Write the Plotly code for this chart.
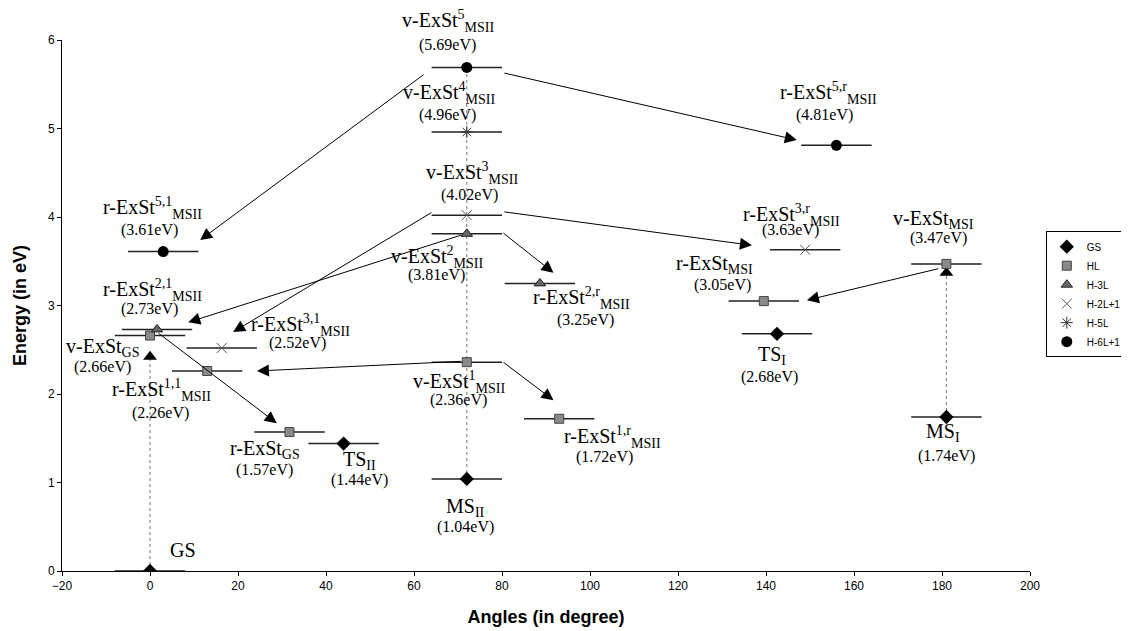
import plotly.graph_objects as go

# ---------------- data ----------------
gs_angle = [0, 44, 72, 142.5, 181]
gs_energy = [0, 1.44, 1.04, 2.68, 1.74]

hl_angle = [0, 13, 31.7, 72, 93, 139.5, 181]
hl_energy = [2.66, 2.26, 1.57, 2.36, 1.72, 3.05, 3.47]

h3l_angle = [1.6, 72, 88.6]
h3l_energy = [2.73, 3.81, 3.25]

h2l1_angle = [16.3, 72, 148.9]
h2l1_energy = [2.52, 4.02, 3.63]

h5l_angle = [72]
h5l_energy = [4.96]

h6l1_angle = [3, 72, 156]
h6l1_energy = [3.61, 5.69, 4.81]

level_half_width = 8  # degrees

# transitions (tail -> head)
arrow_tail_x = [62.5, 80.2, 80.2, 64.3, 71, 80, 80, 71, 1.6, 179.5]
arrow_tail_y = [5.62, 5.63, 4.06, 4.06, 3.80, 3.83, 2.37, 2.37, 2.70, 3.42]
arrow_head_x = [11.4, 147, 136.8, 18.9, 8.7, 91.7, 91.7, 24.3, 28.8, 149.3]
arrow_head_y = [3.74, 4.87, 3.68, 2.70, 2.81, 3.37, 1.93, 2.26, 1.67, 3.06]

# vertical (dotted) excitations
vert_x = [0, 72, 181]
vert_y0 = [0, 1.04, 1.74]
vert_y1 = [2.42, 5.69, 3.37]
vert_has_head = [True, False, True]

# state labels
label_text = [
    "v-ExSt<sup>5</sup><sub>MSII</sub>", "v-ExSt<sup>4</sup><sub>MSII</sub>",
    "v-ExSt<sup>3</sup><sub>MSII</sub>", "v-ExSt<sup>2</sup><sub>MSII</sub>",
    "r-ExSt<sup>2,r</sup><sub>MSII</sub>", "r-ExSt<sup>5,1</sup><sub>MSII</sub>",
    "r-ExSt<sup>2,1</sup><sub>MSII</sub>", "v-ExSt<sub>GS</sub>",
    "r-ExSt<sup>1,1</sup><sub>MSII</sub>", "r-ExSt<sup>3,1</sup><sub>MSII</sub>",
    "r-ExSt<sub>GS</sub>", "TS<sub>II</sub>", "MS<sub>II</sub>",
    "v-ExSt<sup>1</sup><sub>MSII</sub>", "r-ExSt<sup>1,r</sup><sub>MSII</sub>",
    "GS", "r-ExSt<sup>5,r</sup><sub>MSII</sub>", "r-ExSt<sup>3,r</sup><sub>MSII</sub>",
    "v-ExSt<sub>MSI</sub>", "r-ExSt<sub>MSI</sub>", "TS<sub>I</sub>", "MS<sub>I</sub>",
]
label_x = [67.7, 68.0, 73.2, 65.2, 98.0, 0.5, 0.5, -10.9, 2.7, 34.1, 26.1, 47.5, 71.6,
           70.2, 105.0, 7.5, 154.1, 145.9, 178.0, 128.2, 141.4, 180.2]
label_y = [6.22, 5.40, 4.50, 3.55, 3.08, 4.10, 3.18, 2.53, 2.05, 2.78, 1.37, 1.25, 0.72,
           2.14, 1.51, 0.24, 5.40, 4.02, 3.97, 3.46, 2.44, 1.56]
ev_text = ["(5.69eV)", "(4.96eV)", "(4.02eV)", "(3.81eV)", "(3.25eV)", "(3.61eV)",
           "(2.73eV)", "(2.66eV)", "(2.26eV)", "(2.52eV)", "(1.57eV)", "(1.44eV)",
           "(1.04eV)", "(2.36eV)", "(1.72eV)", "", "(4.81eV)", "(3.63eV)", "(3.47eV)",
           "(3.05eV)", "(2.68eV)", "(1.74eV)"]
ev_x = [67.7, 67.5, 72.7, 65.2, 98.9, -0.2, -0.2, -10.7, 2.3, 33.6, 26.1, 47.5, 71.6,
        70.0, 103.4, 0, 153.4, 145.5, 179.1, 130.0, 140.9, 181.1]
ev_y = [5.94, 5.15, 4.25, 3.34, 2.84, 3.85, 2.96, 2.31, 1.79, 2.58, 1.14, 1.03, 0.50,
        1.93, 1.29, 0, 5.15, 3.85, 3.76, 3.23, 2.19, 1.30]

Y_MAX = 6.0

# ---------------- figure ----------------
fig = go.Figure()

# dotted vertical excitations
for vx, a, b in zip(vert_x, vert_y0, vert_y1):
    fig.add_trace(go.Scatter(x=[vx, vx], y=[a, b], mode="lines",
                             line=dict(color="#777", width=1, dash="dot"),
                             showlegend=False, hoverinfo="skip"))
for vx, b, h in zip(vert_x, vert_y1, vert_has_head):
    if h:
        fig.add_trace(go.Scatter(x=[vx], y=[b], mode="markers",
                                 marker=dict(symbol="triangle-up", size=12, color="black"),
                                 showlegend=False, hoverinfo="skip"))

err = dict(type="constant", value=level_half_width, width=0, thickness=1.5, color="#222")

series = [
    ("GS", gs_angle, gs_energy, dict(symbol="diamond", size=11, color="black")),
    ("HL", hl_angle, hl_energy, dict(symbol="square", size=9, color="#8a8a8a",
                                     line=dict(color="#444", width=1))),
    ("H-3L", h3l_angle, h3l_energy, dict(symbol="triangle-up", size=10, color="#666",
                                         line=dict(color="#222", width=1))),
    ("H-2L+1", h2l1_angle, h2l1_energy, dict(symbol="x-thin-open", size=10, color="#555",
                                             line=dict(color="#555", width=1))),
    ("H-5L", h5l_angle, h5l_energy, dict(symbol="asterisk-open", size=10, color="#333",
                                         line=dict(color="#333", width=1))),
    ("H-6L+1", h6l1_angle, h6l1_energy, dict(symbol="circle", size=11, color="black")),
]
for name, xs, ys, mk in series:
    fig.add_trace(go.Scatter(x=xs, y=ys, mode="markers", name=name, marker=mk,
                             error_x=err))

annotations = []
for tx, ty, hx, hy in zip(arrow_tail_x, arrow_tail_y, arrow_head_x, arrow_head_y):
    annotations.append(dict(x=hx, y=hy, ax=tx, ay=ty, xref="x", yref="y",
                            axref="x", ayref="y", text="", showarrow=True,
                            arrowhead=2, arrowsize=2.4, arrowwidth=1,
                            arrowcolor="black", standoff=0))

serif = "Liberation Serif, Times New Roman, serif"
for t, x, y in zip(label_text, label_x, label_y):
    annotations.append(dict(x=x, y=y / Y_MAX, xref="x", yref="paper", text=t,
                            showarrow=False, xanchor="center", yanchor="middle",
                            font=dict(family=serif, size=20, color="black")))
for t, x, y in zip(ev_text, ev_x, ev_y):
    if t:
        annotations.append(dict(x=x, y=y / Y_MAX, xref="x", yref="paper", text=t,
                                showarrow=False, xanchor="center", yanchor="middle",
                                font=dict(family=serif, size=16, color="black")))

fig.update_layout(
    width=1129, height=631,
    margin=dict(l=54, r=107, t=32, b=68, autoexpand=False),
    paper_bgcolor="white", plot_bgcolor="white",
    font=dict(family="Liberation Sans, Arial, sans-serif", size=12, color="black"),
    annotations=annotations,
    legend=dict(x=1.100, y=0.64, xanchor="right", yanchor="top",
                bordercolor="black", borderwidth=1, bgcolor="white",
                font=dict(size=10), tracegroupgap=0, itemwidth=30),
    xaxis=dict(range=[-20, 200], dtick=20, tick0=0, showgrid=False, zeroline=False,
               showline=True, linecolor="black", linewidth=1, ticks="outside",
               ticklen=4, tickcolor="black",
               title=dict(text="<b>Angles (in degree)</b>", standoff=17,
                          font=dict(size=18))),
    yaxis=dict(range=[0, Y_MAX], dtick=1, showgrid=False, zeroline=False,
               showline=True, linecolor="black", linewidth=1, ticks="outside",
               ticklen=4, tickcolor="black",
               title=dict(text="<b>Energy (in eV)</b>", standoff=16,
                          font=dict(size=18))),
)

fig.write_html("out.html")
